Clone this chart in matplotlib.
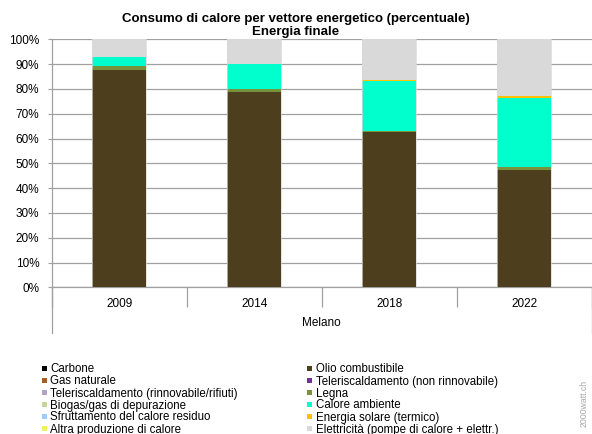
import matplotlib
matplotlib.use('Agg')
import matplotlib.pyplot as plt
from matplotlib.patches import Rectangle
import numpy as np

plt.rcParams['font.family'] = ['Liberation Sans', 'DejaVu Sans']

years = ['2009', '2014', '2018', '2022']
group_label = 'Melano'
title = 'Consumo di calore per vettore energetico (percentuale)\nEnergia finale'
categories = ['Carbone', 'Olio combustibile', 'Gas naturale',
              'Teleriscaldamento (non rinnovabile)',
              'Teleriscaldamento (rinnovabile/rifiuti)', 'Legna',
              'Biogas/gas di depurazione', 'Calore ambiente',
              'Sfruttamento del calore residuo', 'Energia solare (termico)',
              'Altra produzione di calore',
              'Elettricità (pompe di calore + elettr.)']
colors = ['#000000', '#4d3f1e', '#9c5f2c', '#7030a0', '#b3a2c7', '#77933c',
          '#c3d69b', '#00ffcc', '#99ccff', '#ffc000', '#f0f060', '#d9d9d9']

carbone = [0.0, 0.0, 0.0, 0.0]
olio = [87.7, 78.9, 62.6, 47.4]
gas = [0.0, 0.0, 0.0, 0.0]
tele_non = [0.0, 0.0, 0.0, 0.0]
tele_rinn = [0.0, 0.0, 0.0, 0.0]
legna = [1.5, 1.1, 0.4, 1.1]
biogas = [0.0, 0.0, 0.0, 0.0]
calore_amb = [3.7, 9.9, 20.2, 28.0]
sfrutt = [0.0, 0.0, 0.0, 0.0]
solare = [0.1, 0.2, 0.4, 0.5]
altra = [0.0, 0.0, 0.0, 0.0]
elettr = [7.0, 9.9, 16.4, 23.0]

series = [carbone, olio, gas, tele_non, tele_rinn, legna, biogas,
          calore_amb, sfrutt, solare, altra, elettr]
yticks = [0, 10, 20, 30, 40, 50, 60, 70, 80, 90, 100]

W, H = 592, 434
fig = plt.figure(figsize=(W / 100, H / 100), dpi=100)
ax_l, ax_r, ax_t, ax_b = 51.7, 591.7, 39.3, 287.3
ax = fig.add_axes([ax_l / W, 1 - ax_b / H, (ax_r - ax_l) / W, (ax_b - ax_t) / H])

grid_c = '#a0a0a0'
x = np.arange(len(years))
bottom = np.zeros(len(years))
for vals, col in zip(series, colors):
    v = np.array(vals)
    ax.bar(x, v, width=0.4, bottom=bottom, color=col, linewidth=0, zorder=3)
    bottom += v
# thin light outline around each full bar
ax.bar(x, bottom, width=0.4, fill=False, edgecolor='#d8d8d8', linewidth=0.5, zorder=4)

ax.set_xlim(-0.5, len(years) - 0.5)
ax.set_ylim(0, 100)
ax.set_yticks(yticks)
ax.set_yticklabels([f'{t}%' for t in yticks], fontsize=8.5)
ax.yaxis.grid(True, color=grid_c, linewidth=0.9, zorder=0)
ax.tick_params(axis='y', length=3, width=0.8, color=grid_c, pad=6)

ax.set_xticks(x)
ax.set_xticklabels(years, fontsize=8.5)
ax.set_xticks(np.arange(-0.5, len(years), 1.0), minor=True)
ax.tick_params(axis='x', which='major', length=0, pad=8)
ax.tick_params(axis='x', which='minor', length=14.5, width=0.9, color=grid_c)

for s in ['top', 'right']:
    ax.spines[s].set_visible(False)
for s in ['left', 'bottom']:
    ax.spines[s].set_color(grid_c)
    ax.spines[s].set_linewidth(0.9)

ext = -(333 - ax_b) / (ax_b - ax_t)
for xe in [-0.5, len(years) - 0.5]:
    ax.plot([xe, xe], [0, ext], color=grid_c, linewidth=0.9,
            transform=ax.get_xaxis_transform(), clip_on=False)

fig.text((ax_l + ax_r) / 2 / W, 1 - 323 / H, group_label, fontsize=8.5,
         ha='center', va='center')

fig.text(0.5, 1 - 25.5 / H, title, fontsize=9.5, fontweight='bold',
         ha='center', va='center', linespacing=1.05)

# legend
col_sq = [41.7, 307.3]
col_tx = [50.0, 315.7]
sq = 5.0
for i, (cat, col) in enumerate(zip(categories, colors)):
    c = i % 2
    r = i // 2
    yc = 368.0 + 12 * r
    fig.add_artist(Rectangle((col_sq[c] / W, 1 - (yc + sq / 2) / H),
                             sq / W, sq / H, transform=fig.transFigure,
                             facecolor=col, edgecolor='none'))
    fig.text(col_tx[c] / W, 1 - yc / H, cat, fontsize=8.3,
             ha='left', va='center_baseline')

fig.text(584.5 / W, 1 - 403 / H, '2000watt.ch', fontsize=6.3, color='#a8a8a8',
         rotation=90, ha='center', va='center')

fig.savefig('out.png', dpi=100)
